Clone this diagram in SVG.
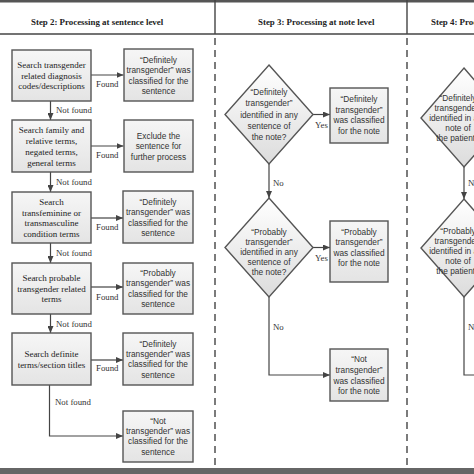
<svg xmlns="http://www.w3.org/2000/svg" width="474" height="474" viewBox="0 0 474 474">
<style>
.box{stroke:#555;stroke-width:1.4;fill:url(#gb)}
.dia{stroke:#555;stroke-width:1.4;fill:url(#gd)}
.ser{font-family:"Liberation Serif","Times New Roman",serif;font-size:9px;fill:#222;text-anchor:middle}
.san{font-family:"Liberation Sans",Arial,sans-serif;font-size:8.3px;fill:#333;text-anchor:middle}
.lbl{font-family:"Liberation Serif","Times New Roman",serif;font-size:8.8px;fill:#333}
.hdr{font-family:"Liberation Serif","Times New Roman",serif;font-size:8.9px;font-weight:bold;fill:#222}
.con{stroke:#444;stroke-width:1.2;fill:none}
.arr{marker-end:url(#ah)}
.sep{stroke:#444;stroke-width:1.4;fill:none}
.dash{stroke:#444;stroke-width:1.4;stroke-dasharray:7 5;fill:none}
</style>
<defs>
<linearGradient id="gb" x1="0" y1="0" x2="0" y2="1"><stop offset="0" stop-color="#f6f6f6"/><stop offset="1" stop-color="#e4e4e4"/></linearGradient>
<linearGradient id="gd" x1="0" y1="0" x2="0" y2="1"><stop offset="0" stop-color="#ffffff"/><stop offset="1" stop-color="#dcdcdc"/></linearGradient>
<marker id="ah" markerUnits="userSpaceOnUse" markerWidth="7" markerHeight="6" refX="7" refY="3" orient="auto"><path d="M0,0 L7,3 L0,6 z" fill="#444"/></marker>
</defs>
<rect width="474" height="474" fill="#fff"/>
<g id="frame">
<rect x="0" y="0" width="474" height="2.5" fill="#555"/>
<line class="sep" x1="0" y1="34" x2="474" y2="34"/>
<line class="sep" x1="215" y1="0" x2="215" y2="34"/>
<line class="sep" x1="407" y1="0" x2="407" y2="34"/>
<line class="dash" x1="215" y1="38" x2="215" y2="468"/>
<line class="dash" x1="407" y1="38" x2="407" y2="468"/>
<rect x="0" y="468" width="474" height="6" fill="#666"/>
<text class="hdr" x="31" y="24.5">Step 2: Processing at sentence level</text>
<text class="hdr" x="258" y="24.5">Step 3: Processing at note level</text>
<text class="hdr" x="431" y="24.5">Step 4: Processing at patient level</text>
</g>
<g id="connectors">
<line class="con arr" x1="91" y1="75" x2="123.5" y2="75"/>
<line class="con arr" x1="91" y1="146" x2="123.5" y2="146"/>
<line class="con arr" x1="91" y1="218" x2="123" y2="218"/>
<line class="con arr" x1="91" y1="287" x2="123" y2="287"/>
<line class="con arr" x1="91" y1="360" x2="123" y2="360"/>
<line class="con arr" x1="50.5" y1="101" x2="50.5" y2="120"/>
<line class="con arr" x1="50.5" y1="172" x2="50.5" y2="192"/>
<line class="con arr" x1="50.5" y1="243" x2="50.5" y2="263"/>
<line class="con arr" x1="50.5" y1="314" x2="50.5" y2="333"/>
<polyline class="con arr" points="49.5,385 49.5,436 123,436"/>
<line class="con arr" x1="313" y1="114.5" x2="330" y2="114.5"/>
<line class="con arr" x1="269" y1="164" x2="269" y2="198"/>
<line class="con arr" x1="313" y1="247.5" x2="330" y2="247.5"/>
<polyline class="con arr" points="269,297 269,375 330,375"/>
<line class="con arr" x1="464" y1="167" x2="464" y2="199"/>
<polyline class="con" points="464,297 464,375 480,375"/>
<text class="lbl" x="96" y="87">Found</text>
<text class="lbl" x="96" y="158">Found</text>
<text class="lbl" x="96" y="229.5">Found</text>
<text class="lbl" x="96" y="300">Found</text>
<text class="lbl" x="96" y="371">Found</text>
<text class="lbl" x="56" y="113">Not found</text>
<text class="lbl" x="56" y="185">Not found</text>
<text class="lbl" x="56" y="256">Not found</text>
<text class="lbl" x="56" y="327">Not found</text>
<text class="lbl" x="55" y="405">Not found</text>
<text class="lbl" x="315" y="128">Yes</text>
<text class="lbl" x="315" y="261">Yes</text>
<text class="lbl" x="273" y="186">No</text>
<text class="lbl" x="273" y="330">No</text>
<text class="lbl" x="468" y="186">No</text>
<text class="lbl" x="468" y="330">No</text>
</g>
<g id="s2-box1">
<rect class="box" x="12" y="50" width="79" height="51"/>
<text class="ser"><tspan x="51.5" y="68">Search transgender</tspan><tspan x="51.5" y="78.5">related diagnosis</tspan><tspan x="51.5" y="89">codes/descriptions</tspan></text>
</g>
<g id="s2-res1">
<rect class="box" x="124" y="49" width="69" height="52"/>
<text class="san"><tspan x="158.5" y="63">“Definitely</tspan><tspan x="158.5" y="73.3">transgender” was</tspan><tspan x="158.5" y="83.6">classified for the</tspan><tspan x="158.5" y="94">sentence</tspan></text>
</g>
<g id="s2-box2">
<rect class="box" x="12" y="120" width="79" height="52"/>
<text class="ser"><tspan x="51.5" y="133">Search family and</tspan><tspan x="51.5" y="144">relative terms,</tspan><tspan x="51.5" y="155">negated terms,</tspan><tspan x="51.5" y="166">general terms</tspan></text>
</g>
<g id="s2-res2">
<rect class="box" x="124" y="120" width="69" height="52"/>
<text class="san"><tspan x="158.5" y="139">Exclude the</tspan><tspan x="158.5" y="149.3">sentence for</tspan><tspan x="158.5" y="159.6">further process</tspan></text>
</g>
<g id="s2-box3">
<rect class="box" x="12" y="192" width="79" height="51"/>
<text class="ser"><tspan x="51.5" y="205">Search</tspan><tspan x="51.5" y="215.5">transfeminine or</tspan><tspan x="51.5" y="226">transmasculine</tspan><tspan x="51.5" y="236.5">condition terms</tspan></text>
</g>
<g id="s2-res3">
<rect class="box" x="123" y="191" width="70" height="52"/>
<text class="san"><tspan x="158" y="205">“Definitely</tspan><tspan x="158" y="215.3">transgender” was</tspan><tspan x="158" y="225.6">classified for the</tspan><tspan x="158" y="236">sentence</tspan></text>
</g>
<g id="s2-box4">
<rect class="box" x="12" y="263" width="79" height="51"/>
<text class="ser"><tspan x="51.5" y="281">Search probable</tspan><tspan x="51.5" y="291.5">transgender related</tspan><tspan x="51.5" y="302">terms</tspan></text>
</g>
<g id="s2-res4">
<rect class="box" x="123" y="263" width="70" height="51"/>
<text class="san"><tspan x="158" y="276">“Probably</tspan><tspan x="158" y="286.3">transgender” was</tspan><tspan x="158" y="296.6">classified for the</tspan><tspan x="158" y="307">sentence</tspan></text>
</g>
<g id="s2-box5">
<rect class="box" x="12" y="333" width="79" height="52"/>
<text class="ser"><tspan x="51.5" y="357">Search definite</tspan><tspan x="51.5" y="367.5">terms/section titles</tspan></text>
</g>
<g id="s2-res5">
<rect class="box" x="123" y="333" width="70" height="52"/>
<text class="san"><tspan x="158" y="346.5">“Definitely</tspan><tspan x="158" y="356.8">transgender” was</tspan><tspan x="158" y="367.1">classified for the</tspan><tspan x="158" y="377.5">sentence</tspan></text>
</g>
<g id="s2-res6">
<rect class="box" x="123" y="411" width="70" height="51"/>
<text class="san"><tspan x="158" y="423.5">“Not</tspan><tspan x="158" y="433.8">transgender” was</tspan><tspan x="158" y="444.1">classified for the</tspan><tspan x="158" y="454.5">sentence</tspan></text>
</g>
<g id="s3-dec1">
<polygon class="dia" points="269,65 313,114.5 269,164 225,114.5"/>
<text class="san"><tspan x="269" y="95">“Definitely</tspan><tspan x="269" y="106">transgender”</tspan><tspan x="269" y="117.5">identified in any</tspan><tspan x="269" y="128.5">sentence of</tspan><tspan x="269" y="139.5">the note?</tspan></text>
</g>
<g id="s3-res1">
<rect class="box" x="330" y="88" width="58" height="55"/>
<text class="san"><tspan x="359" y="102">“Definitely</tspan><tspan x="359" y="112.5">transgender”</tspan><tspan x="359" y="123">was classified</tspan><tspan x="359" y="133.5">for the note</tspan></text>
</g>
<g id="s3-dec2">
<polygon class="dia" points="269,198 313,247.5 269,297 225,247.5"/>
<text class="san"><tspan x="269" y="234.5">“Probably</tspan><tspan x="269" y="245">transgender”</tspan><tspan x="269" y="255">identified in any</tspan><tspan x="269" y="265">sentence of</tspan><tspan x="269" y="275">the note?</tspan></text>
</g>
<g id="s3-res2">
<rect class="box" x="330" y="221" width="58" height="61"/>
<text class="san"><tspan x="359" y="235">“Probably</tspan><tspan x="359" y="245.3">transgender”</tspan><tspan x="359" y="255.6">was classified</tspan><tspan x="359" y="266">for the note</tspan></text>
</g>
<g id="s3-res3">
<rect class="box" x="330" y="349" width="58" height="52"/>
<text class="san"><tspan x="359" y="362">“Not</tspan><tspan x="359" y="373">transgender”</tspan><tspan x="359" y="384">was classified</tspan><tspan x="359" y="394">for the note</tspan></text>
</g>
<g id="s4-dec1">
<polygon class="dia" points="464,68 507,118 464,167 421,118"/>
<text class="san"><tspan x="458" y="101">“Definitely</tspan><tspan x="458" y="111">transgender”</tspan><tspan x="458" y="121">identified in any</tspan><tspan x="458" y="131">note of</tspan><tspan x="458" y="141">the patient?</tspan></text>
</g>
<g id="s4-dec2">
<polygon class="dia" points="464,199 507,248 464,297 421,248"/>
<text class="san"><tspan x="458" y="234">“Probably</tspan><tspan x="458" y="244">transgender”</tspan><tspan x="458" y="254">identified in any</tspan><tspan x="458" y="264">note of</tspan><tspan x="458" y="274">the patient?</tspan></text>
</g>
</svg>
